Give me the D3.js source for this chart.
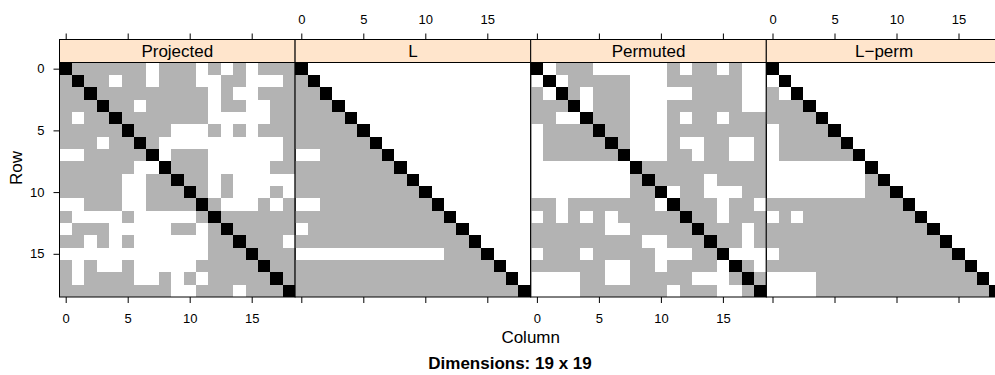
<!DOCTYPE html>
<html>
<head>
<meta charset="utf-8">
<script src="https://cdn.jsdelivr.net/npm/d3@7"></script>
<style>
  body { margin: 0; background: #fff; }
  svg { display: block; font-family: "Liberation Sans", Arial, Helvetica, sans-serif; }
</style>
</head>
<body>
<div id="chart"></div>
<script>
// cell codes: 0 = empty, 1 = non-zero, 2 = diagonal
var panelNames = ["Projected", "L", "Permuted", "L\u2212perm"];
var tickValues = [0, 5, 10, 15];

var projected = [
  "2111111011101010111",
  "1211011011100110001",
  "1121111111110100111",
  "1112110111110110011",
  "1011211111110000011",
  "1111121110001010111",
  "1110112100000000001",
  "0011111201110000001",
  "1111110021110000011",
  "1111100112110100000",
  "1111100111210100010",
  "0011100111121000101",
  "1000010000012111111",
  "0111000001101211111",
  "1101010000001121110",
  "0000000000001112111",
  "1010010000011111211",
  "1011110010101111121",
  "1111111110011101112"
];

var lFactor = [
  "2000000000000000000",
  "1200000000000000000",
  "1120000000000000000",
  "1112000000000000000",
  "1111200000000000000",
  "1111120000000000000",
  "1111112000000000000",
  "0011111200000000000",
  "1111111120000000000",
  "1111111112000000000",
  "1111111111200000000",
  "0011111111120000000",
  "1111111111112000000",
  "0111111111111200000",
  "1111111111111120000",
  "0000000000001112000",
  "1111111111111111200",
  "1111111111111111120",
  "1111111111111111112"
];

var permuted = [
  "2011100000010110100",
  "0201111100011111100",
  "1021011100000111100",
  "1112011100011111100",
  "1100211100010110111",
  "0111121100011111111",
  "0111112100010011001",
  "0111111200011011001",
  "0000000021111111111",
  "0000000012111101111",
  "0000000011201100011",
  "1101111111021110110",
  "0101010111112110111",
  "1111110011111211101",
  "1111111110011121101",
  "0111011111000112000",
  "1111110011011110210",
  "0000110011111000121",
  "0000111111101110012"
];

var lPerm = [
  "2000000000000000000",
  "0200000000000000000",
  "1020000000000000000",
  "1112000000000000000",
  "1111200000000000000",
  "0111120000000000000",
  "0111112000000000000",
  "0111111200000000000",
  "0000000020000000000",
  "0000000012000000000",
  "0000000011200000000",
  "1111111111120000000",
  "0101111111112000000",
  "1111111111111200000",
  "1111111111111120000",
  "0111111111111112000",
  "1111111111111111200",
  "0000111111111111120",
  "0000111111111111112"
];

var matrices = [projected, lFactor, permuted, lPerm];

var width = 995, height = 375;
var panelX0 = 59.5, panelW = 235.6, panelTop = 62.5, panelH = 234.5, stripH = 23;
var fill = { 1: "#b3b3b3", 2: "#000000" };

var svg = d3.select("#chart").append("svg")
    .attr("width", width)
    .attr("height", height);

var x = d3.scaleLinear().domain([-0.5, 18.5]).range([0, panelW]);
var y = d3.scaleLinear().domain([-0.5, 18.5]).range([0, panelH]);

matrices.forEach(function(rows, p) {
    var g = svg.append("g")
        .attr("transform", "translate(" + (panelX0 + p * panelW) + "," + panelTop + ")");

    var cells = [];
    rows.forEach(function(str, r) {
        str.split("").forEach(function(ch, c) {
            if (ch !== "0") cells.push({ r: r, c: c, v: +ch });
        });
    });

    g.selectAll("rect.cell")
        .data(cells)
        .enter().append("rect")
        .attr("class", "cell")
        .attr("x", function(d) { return x(d.c - 0.5); })
        .attr("y", function(d) { return y(d.r - 0.5); })
        .attr("width", x(0.5) - x(-0.5))
        .attr("height", y(0.5) - y(-0.5))
        .attr("fill", function(d) { return fill[d.v]; })
        .attr("shape-rendering", "crispEdges");

    g.append("rect")
        .attr("width", panelW).attr("height", panelH)
        .attr("fill", "none").attr("stroke", "#000").attr("stroke-width", 1);

    // strip
    g.append("rect")
        .attr("y", -stripH).attr("width", panelW).attr("height", stripH)
        .attr("fill", "#ffe5cc").attr("stroke", "#000").attr("stroke-width", 1);
    g.append("text")
        .attr("x", panelW / 2).attr("y", -stripH / 2)
        .attr("dy", "0.36em")
        .attr("text-anchor", "middle")
        .style("font-size", "17px")
        .text(panelNames[p]);

    // top axis labelled on panels 2 and 4, bottom on 1 and 3
    var top = d3.axisTop(x).tickValues(tickValues).tickSize(6).tickPadding(10)
        .tickFormat(p % 2 === 1 ? d3.format("d") : function() { return ""; });
    var bottom = d3.axisBottom(x).tickValues(tickValues).tickSize(6).tickPadding(11)
        .tickFormat(p % 2 === 0 ? d3.format("d") : function() { return ""; });

    var ta = g.append("g").attr("transform", "translate(0," + (-stripH) + ")").call(top);
    var ba = g.append("g").attr("transform", "translate(0," + panelH + ")").call(bottom);
    [ta, ba].forEach(function(a) {
        a.select(".domain").remove();
        a.selectAll("text").style("font-size", "13px").attr("fill", "#000");
        a.selectAll("line").attr("stroke", "#000");
    });

    if (p === 0) {
        var la = g.append("g").call(d3.axisLeft(y).tickValues(tickValues).tickSize(6).tickPadding(9));
        la.select(".domain").remove();
        la.selectAll("text").style("font-size", "13px").attr("fill", "#000");
        la.selectAll("line").attr("stroke", "#000");
    }
});

svg.append("text")
    .attr("x", panelX0 + 2 * panelW).attr("y", 343)
    .attr("text-anchor", "middle")
    .style("font-size", "17px")
    .text("Column");

svg.append("text")
    .attr("transform", "translate(22," + 168 + ") rotate(-90)")
    .attr("text-anchor", "middle")
    .style("font-size", "17px")
    .text("Row");

svg.append("text")
    .attr("x", 510).attr("y", 369)
    .attr("text-anchor", "middle")
    .style("font-size", "17px")
    .style("font-weight", "bold")
    .text("Dimensions: 19 x 19");
</script>
</body>
</html>
